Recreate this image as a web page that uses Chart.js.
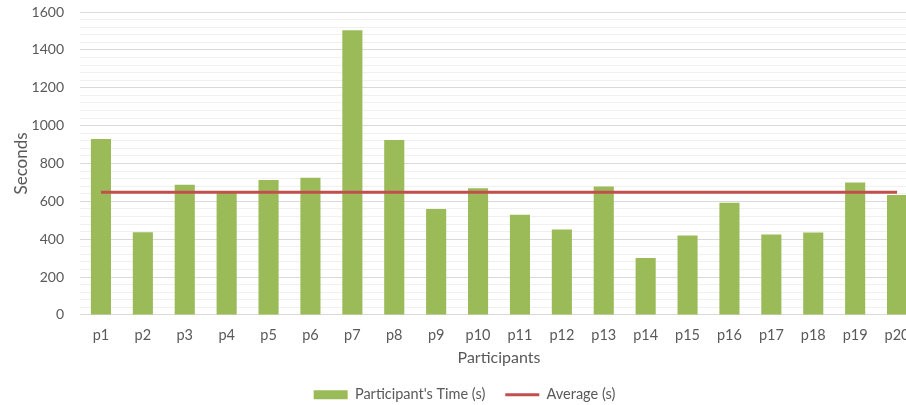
<!DOCTYPE html>
<html lang="en">
<head>
  <meta charset="UTF-8" />
  <title>Participants' Time</title>
  <script src="https://cdn.jsdelivr.net/npm/chart.js"></script>
  <style>
    body {
      margin: 0;
      background: #fff;
      overflow: hidden;
    }
    /* chart is a little wider than the window, the right edge is cut off */
    .chart-box {
      width: 930px;
      height: 405px;
      position: relative;
    }
  </style>
</head>
<body>
  <div class="chart-box">
    <canvas id="timeChart"></canvas>
  </div>

  <script>
    const participants = ["p1", "p2", "p3", "p4", "p5", "p6", "p7", "p8", "p9", "p10",
      "p11", "p12", "p13", "p14", "p15", "p16", "p17", "p18", "p19", "p20"];
    const timeSeconds = [929, 437, 688, 650, 712, 725, 1503, 924, 559, 669,
      529, 451, 678, 301, 420, 593, 425, 435, 699, 634];
    const averageSeconds = 648;
    const yTickMax = 1600;

    const textColor = "#595959";
    const family = "Lato, 'Liberation Sans', sans-serif";
    const titleFont = { family: family, size: 16 };

    new Chart(document.getElementById("timeChart"), {
      type: "bar",
      data: {
        labels: participants,
        datasets: [
          {
            label: "Participant's Time (s)",
            data: timeSeconds,
            backgroundColor: "#9bbb59",
            borderWidth: 0,
            categoryPercentage: 1,
            barPercentage: 0.48,
            pointStyle: "rect",
            order: 2
          },
          {
            type: "line",
            label: "Average (s)",
            data: participants.map(() => averageSeconds),
            borderColor: "#c0504d",
            backgroundColor: "#c0504d",
            borderWidth: 3,
            pointRadius: 0,
            pointStyle: "line",
            order: 1
          }
        ]
      },
      options: {
        responsive: true,
        maintainAspectRatio: false,
        animation: false,
        layout: { padding: { top: 0, right: 12, bottom: -7, left: 11 } },
        plugins: {
          tooltip: { enabled: false },
          legend: {
            position: "bottom",
            labels: {
              color: textColor,
              font: { family: family, size: 14.5 },
              usePointStyle: true,
              pointStyleWidth: 34,
              boxHeight: 9,
              padding: 20,
              sort: (a, b) => a.datasetIndex - b.datasetIndex
            }
          }
        },
        scales: {
          x: {
            grid: { display: false },
            border: { display: false },
            ticks: { color: textColor, font: { family: family, size: 14.5 }, padding: 4 },
            title: {
              display: true,
              text: "Participants",
              color: textColor,
              font: titleFont,
              padding: { top: 0, bottom: 0 }
            }
          },
          y: {
            min: 0,
            max: yTickMax,
            border: { display: false },
            grid: {
              drawTicks: false,
              color: ctx => ctx.tick && ctx.tick.value % 200 === 0 ? "#d9d9d9" : "#f0f0f0"
            },
            ticks: {
              stepSize: 40,
              autoSkip: false,
              color: textColor,
              font: { family: family, size: 14 },
              padding: 16,
              callback: v => v % 200 === 0 ? v : ""
            },
            title: {
              display: true,
              text: "Seconds",
              color: textColor,
              font: { family: family, size: 17 },
              padding: { top: 0, bottom: 0 }
            },
            afterFit: axis => {
              axis.width = 69;
              // keep the plot top close to the "1600" label
              axis.paddingTop = 12;
              axis.paddingBottom = 0;
            }
          }
        }
      }
    });
  </script>
</body>
</html>
